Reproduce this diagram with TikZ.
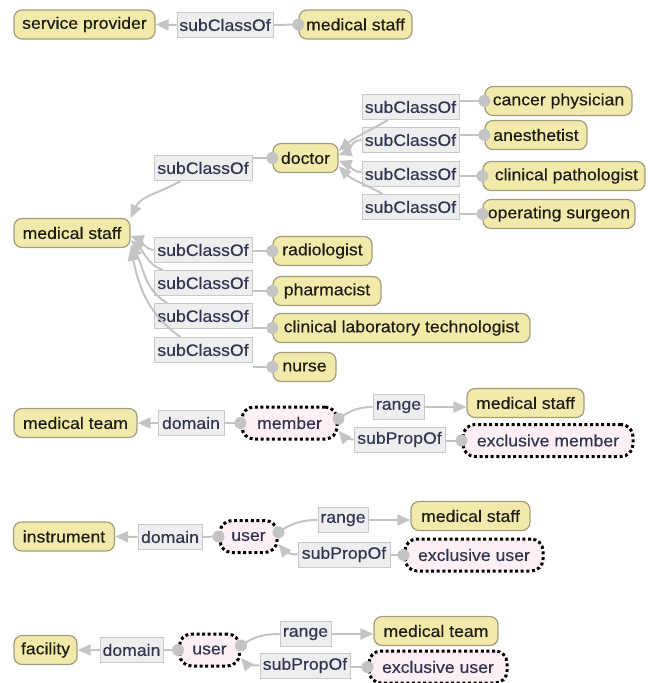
\documentclass[tikz,border=0pt]{standalone}
\usepackage{fontspec}
\setmainfont{Liberation Sans}[FakeStretch=1.07,FakeBold=0.35]
\usetikzlibrary{arrows.meta,calc}
\definecolor{clsfill}{HTML}{F2EAAA}
\definecolor{clsline}{HTML}{A29C7E}
\definecolor{clstext}{HTML}{1E1A14}
\definecolor{lblfill}{HTML}{EEEEEE}
\definecolor{lblline}{HTML}{C9C9C9}
\definecolor{lbltext}{HTML}{2E3550}
\definecolor{propfill}{HTML}{FDEFF3}
\definecolor{edgec}{HTML}{C4C4C4}
\begin{document}
\begin{tikzpicture}[x=1pt,y=-1pt,
  txt/.style={font=\fontsize{16.5}{18}\selectfont},
  cls/.style={txt, draw=clsline, fill=clsfill, rounded corners=8pt, line width=1.2pt,
    minimum height=29pt, inner xsep=3pt, inner ysep=0pt, text=clstext},
  lbl/.style={txt, draw=lblline, fill=lblfill, line width=1pt,
    minimum height=25pt, inner xsep=2pt, inner ysep=0pt, text=lbltext},
  prop/.style={txt, draw=black, fill=propfill, rounded corners=12pt, line width=3pt,
    dash pattern=on 3pt off 2.6pt, minimum height=32pt, inner xsep=3pt, inner ysep=0pt, text=lbltext},
  rel/.style={draw=edgec, line width=2pt},
  arr/.style={rel, -{Triangle[length=13pt,width=11pt]}},
  srcdot/.style={fill=edgec},
]
\useasboundingbox (0,0) rectangle (650,683);

% ---------- row 1
\node[cls, minimum width=141pt] (sp) at (84.5,24.5) {service provider};
\node[lbl, minimum width=96pt] (l0) at (225,25) {subClassOf};
\node[cls, minimum width=113pt] (ms0) at (355.5,24.5) {medical staff};

% ---------- section 2
\node[cls, minimum width=116pt] (ms1) at (72,233) {medical staff};
\node[cls, minimum width=65pt] (doc) at (305.5,158) {doctor};
\node[lbl, minimum width=98pt] (ldoc) at (203,168) {subClassOf};
\node[cls, minimum width=99pt] (rad) at (322.5,251) {radiologist};
\node[lbl, minimum width=98pt] (lrad) at (203,250) {subClassOf};
\node[cls, minimum width=108pt] (pha) at (327,291) {pharmacist};
\node[lbl, minimum width=98pt] (lpha) at (203,283) {subClassOf};
\node[cls, minimum width=257pt] (clt) at (401.5,328) {clinical laboratory technologist};
\node[lbl, minimum width=98pt] (lclt) at (203,316) {subClassOf};
\node[cls, minimum width=63pt] (nur) at (304.5,367) {nurse};
\node[lbl, minimum width=98pt] (lnur) at (203,350) {subClassOf};

\node[lbl, minimum width=97pt] (lcan) at (410.5,107) {subClassOf};
\node[cls, minimum width=147pt] (can) at (558.5,101) {cancer physician};
\node[lbl, minimum width=97pt] (lane) at (410.5,140) {subClassOf};
\node[cls, minimum width=102pt] (ane) at (536,135) {anesthetist};
\node[lbl, minimum width=97pt] (lcp) at (410.5,174) {subClassOf};
\node[cls, minimum width=162pt] (cp) at (564,176) {\ clinical pathologist};
\node[lbl, minimum width=97pt] (los) at (410.5,207) {subClassOf};
\node[cls, minimum width=152pt] (os) at (559,214) {operating surgeon};

% ---------- section 3
\node[cls, minimum width=123pt] (mt) at (75.5,423) {medical team};
\node[lbl, minimum width=66pt] (dom1) at (191,423) {domain};
\node[prop, minimum width=95pt] (mem) at (289.5,423) {member};
\node[lbl, minimum width=51pt] (rng1) at (398.5,407) {range};
\node[cls, minimum width=117pt] (ms3) at (525.5,403) {medical staff};
\node[lbl, minimum width=91pt] (sp1) at (399.5,439.5) {subPropOf};
\node[prop, minimum width=170pt] (em) at (548,440.5) {exclusive member};

% ---------- section 4
\node[cls, minimum width=101pt] (ins) at (64,536.5) {instrument};
\node[lbl, minimum width=64pt] (dom2) at (170,537) {domain};
\node[prop, minimum width=57pt] (us1) at (248.5,536.5) {user};
\node[lbl, minimum width=50pt] (rng2) at (343,520) {range};
\node[cls, minimum width=119pt] (ms4) at (470.5,516) {medical staff};
\node[lbl, minimum width=92pt] (sp2) at (344,554.5) {subPropOf};
\node[prop, minimum width=138pt] (eu1) at (474,555) {exclusive user};

% ---------- section 5
\node[cls, minimum width=63pt] (fac) at (45.5,650) {facility};
\node[lbl, minimum width=63pt] (dom3) at (131.5,650) {domain};
\node[prop, minimum width=60pt] (us2) at (209.5,650) {user};
\node[lbl, minimum width=51pt] (rng3) at (305.5,634) {range};
\node[cls, minimum width=124pt] (mt5) at (436,631) {medical team};
\node[lbl, minimum width=90pt] (sp3) at (305,665.5) {subPropOf};
\node[prop, minimum width=138pt] (eu2) at (438,667) {exclusive user};

% ---------- connectors
% row 1
\draw[rel] (ms0.west) -- (l0.east);
\draw[arr] (l0.west) -- (sp.east);

% section 2: children of medical staff
\draw[rel] (doc.west) -- (ldoc.east |- doc.west);
\draw[arr] (ldoc.-150) to[out=-150,in=65] (ms1.north east);
\draw[rel] (rad.west) -- (lrad.east |- rad.west);
\draw[arr] (lrad.west) to[out=170,in=-20] (ms1.-3);
\draw[rel] (pha.west) -- (lpha.east |- pha.west);
\draw[arr] (lpha.162) to[out=160,in=-40] (ms1.-7);
\draw[rel] (clt.west) -- (lclt.east |- clt.west);
\draw[arr] (lclt.160) to[out=150,in=-60] (ms1.-11);
\draw[rel] (nur.west) -- (lnur.east |- nur.west);
\draw[arr] (lnur.150) to[out=145,in=-78] (ms1.-14);

% section 2: children of doctor
\draw[rel] (can.west) -- (lcan.east |- can.west);
\draw[arr] (lcan.-150) to[out=-150,in=40] (doc.12);
\draw[rel] (ane.west) -- (lane.east |- ane.west);
\draw[arr] (lane.west) to[out=180,in=20] (doc.5);
\draw[rel] (cp.west) -- (lcp.east |- cp.west);
\draw[arr] (lcp.178) to[out=175,in=-20] (doc.-5);
\draw[rel] (os.west) -- (los.east |- os.west);
\draw[arr] (los.155) to[out=150,in=-45] (doc.-14);

% section 3
\draw[rel] (mem.west) -- (dom1.east);
\draw[arr] (dom1.west) -- (mt.east);
\draw[rel] (mem.5) to[out=35,in=180] (rng1.west);
\draw[arr] (rng1.east) -- (ms3.west |- rng1.east);
\draw[rel] (em.west) -- (sp1.east |- em.west);
\draw[arr] (sp1.west) to[out=180,in=-50] (mem.-9);

% section 4
\draw[rel] (us1.west) -- (dom2.east);
\draw[arr] (dom2.west) -- (ins.east);
\draw[rel] (us1.8) to[out=35,in=180] (rng2.west);
\draw[arr] (rng2.east) -- (ms4.west |- rng2.east);
\draw[rel] (eu1.west) -- (sp2.east |- eu1.west);
\draw[arr] (sp2.west) to[out=180,in=-50] (us1.-14);

% section 5
\draw[rel] (us2.west) -- (dom3.east);
\draw[arr] (dom3.west) -- (fac.east);
\draw[rel] (us2.8) to[out=35,in=180] (rng3.west);
\draw[arr] (rng3.east) -- (mt5.west |- rng3.east);
\draw[rel] (eu2.west) -- (sp3.east |- eu2.west);
\draw[arr] (sp3.west) to[out=180,in=-50] (us2.-14);

% source dots
\foreach \n in {ms0,doc,rad,pha,clt,nur,can,ane,cp,os,em,eu1,eu2}
  \fill[srcdot] (\n.west) circle (6pt);
\fill[srcdot] (mem.west) circle (6pt);
\fill[srcdot] (mem.5) circle (6pt);
\fill[srcdot] (us1.west) circle (6pt);
\fill[srcdot] (us1.8) circle (6pt);
\fill[srcdot] (us2.west) circle (6pt);
\fill[srcdot] (us2.8) circle (6pt);
\end{tikzpicture}
\end{document}
